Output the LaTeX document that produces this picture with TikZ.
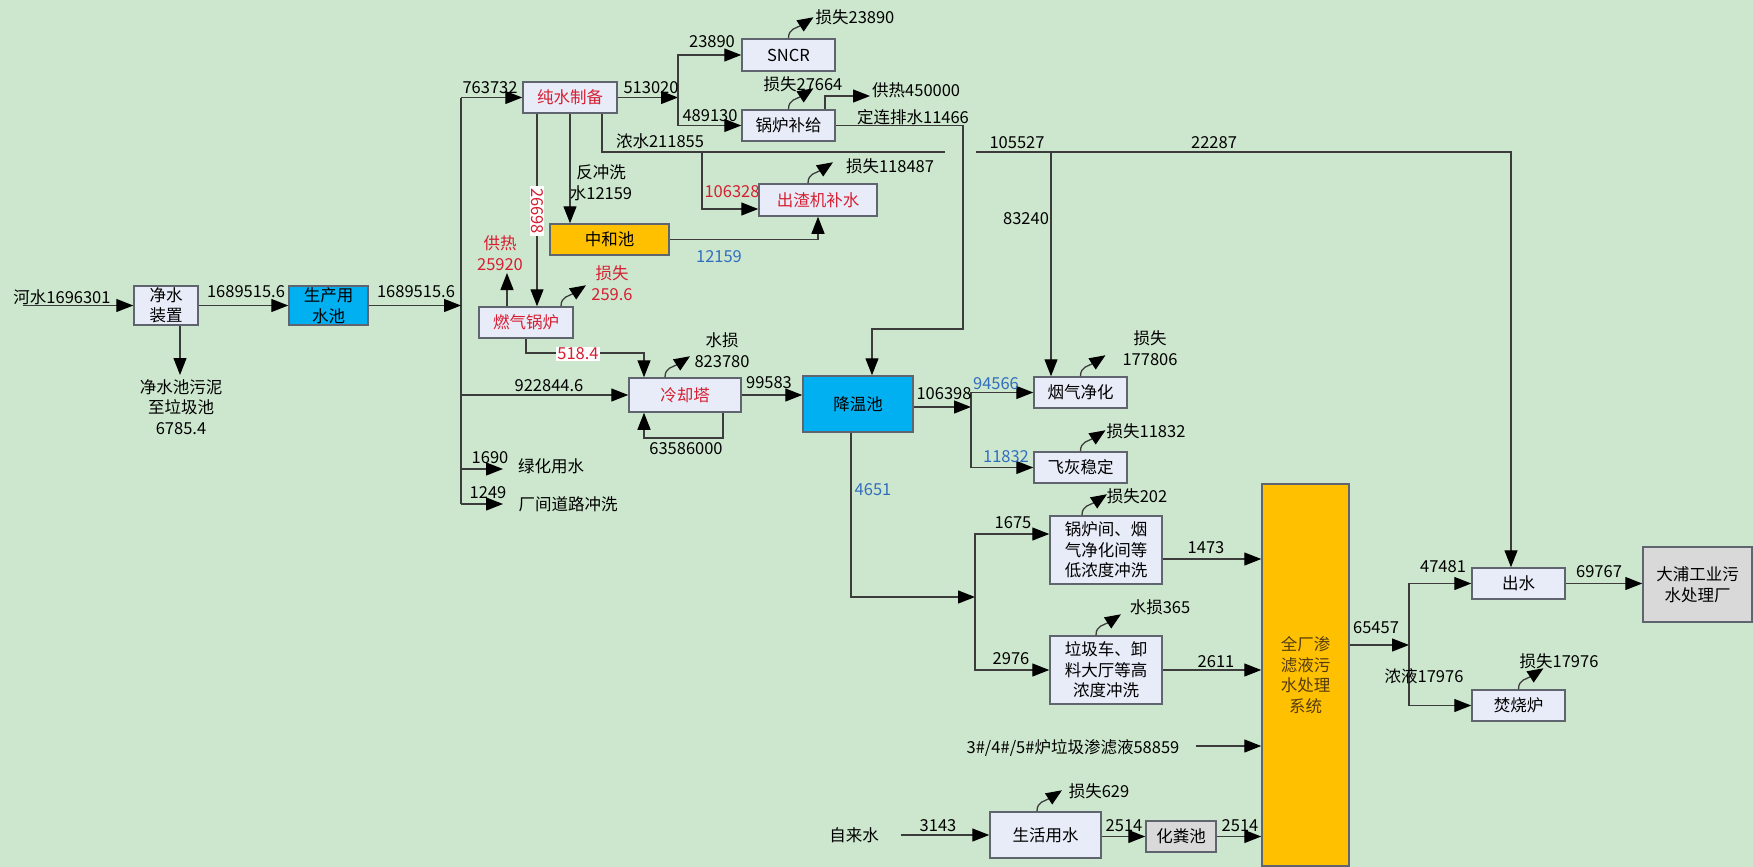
\documentclass[tikz,border=0pt]{standalone}
\usepackage{fontspec}
\setmainfont{Noto Sans CJK SC}
\usetikzlibrary{arrows.meta,calc}
\definecolor{bgc}{RGB}{205,231,206}
\definecolor{boxfill}{RGB}{232,236,248}
\definecolor{boxline}{RGB}{95,100,110}
\definecolor{bluef}{RGB}{0,176,240}
\definecolor{orangef}{RGB}{255,192,0}
\definecolor{grayf}{RGB}{217,217,217}
\definecolor{redc}{RGB}{215,30,50}
\definecolor{bluec}{RGB}{50,110,190}
\definecolor{brownc}{RGB}{85,60,15}
\definecolor{linec}{RGB}{60,60,60}
\newcommand\lossarrow[2][0pt]{\draw[loss,shift={(#2)},xshift=#1] (0,0) .. controls (0,-10) and (8,-10) .. (25,-21);}
\begin{document}
\begin{tikzpicture}[x=1pt,y=-1pt,
  every node/.style={font=\fontsize{16.5}{20.5}\selectfont},
  box/.style={draw=boxline, line width=1.5pt, fill=boxfill, inner sep=0pt, align=center},
  lab/.style={inner sep=0pt, align=center},
  redlab/.style={lab, text=redc},
  bluelab/.style={lab, text=bluec},
  conn/.style={draw=linec, line width=1.3pt},
  arr/.style={conn, -{Triangle[length=17pt,width=13pt,black]}},
  loss/.style={conn, -{Triangle[length=16pt,width=13pt,black]}}]
\fill[bgc] (0,0) rectangle (1753,867);
\useasboundingbox (0,0) rectangle (1753,867);

% boxes
\node[box, minimum width=64pt, minimum height=39pt] (jsz) at (166,305.5) {净水\\装置};
\node[box, fill=bluef, minimum width=79pt, minimum height=39pt] (sc) at (328.5,305.5) {生产用\\水池};
\node[box, text=redc, minimum width=94pt, minimum height=31pt] (cs) at (570,97.5) {纯水制备};
\node[box, minimum width=93pt, minimum height=32pt] (sncr) at (788.5,55) {SNCR};
\node[box, minimum width=93pt, minimum height=31pt] (glbj) at (788.5,125.5) {锅炉补给};
\node[box, text=redc, minimum width=118pt, minimum height=32pt] (czj) at (818,200) {出渣机补水};
\node[box, fill=orangef, minimum width=119pt, minimum height=31pt] (zhc) at (609.5,239.5) {中和池};
\node[box, text=redc, minimum width=94pt, minimum height=31pt] (rqgl) at (526,322.5) {燃气锅炉};
\node[box, text=redc, minimum width=112pt, minimum height=34pt] (lqt) at (685,395) {冷却塔};
\node[box, fill=bluef, minimum width=110pt, minimum height=56pt] (jwc) at (858,404) {降温池};
\node[box, minimum width=93pt, minimum height=31pt] (yqjh) at (1080.5,392.5) {烟气净化};
\node[box, minimum width=93pt, minimum height=31pt] (fhwd) at (1080.5,467.5) {飞灰稳定};
\node[box, minimum width=112pt, minimum height=68pt] (glj) at (1106,550) {锅炉间、烟\\气净化间等\\低浓度冲洗};
\node[box, minimum width=112pt, minimum height=68pt] (ljc) at (1106,670) {垃圾车、卸\\料大厅等高\\浓度冲洗};
\node[box, minimum width=111pt, minimum height=46pt] (shys) at (1045.5,835) {生活用水};
\node[box, fill=grayf, minimum width=70pt, minimum height=31pt] (hfc) at (1181,836.5) {化粪池};
\node[box, fill=orangef, text=brownc, minimum width=87pt, minimum height=382pt] (qc) at (1305.5,675) {全厂渗\\滤液污\\水处理\\系统};
\node[box, minimum width=93pt, minimum height=31pt] (csw) at (1518.5,583.5) {出水};
\node[box, minimum width=93pt, minimum height=31pt] (fsl) at (1518.5,705.5) {焚烧炉};
\node[box, fill=grayf, minimum width=109pt, minimum height=75pt] (dp) at (1697.5,584.5) {大浦工业污\\水处理厂};

% coordinates
\coordinate (riv) at (23,305.5);
\coordinate (sludgeend) at (180,375);
\coordinate (busT) at (461,97.5);
\coordinate (busB) at (461,504);
\coordinate (lhend) at (503,469);
\coordinate (cjend) at (503,504);
\coordinate (sp1) at (678,97.5);
\coordinate (grend) at (870,96);
\coordinate (d1) at (963,125.5);
\coordinate (d3) at (872,329);
\coordinate (gapL) at (945,152);
\coordinate (gapR) at (976,152);
\coordinate (b1) at (702,152);
\coordinate (b2) at (1051,152);
\coordinate (gr2) at (507,273);
\coordinate (q1) at (644,353);
\coordinate (l1) at (723,438);
\coordinate (l2) at (644,438);
\coordinate (s2) at (971,407);
\coordinate (s3) at (975,597);
\coordinate (c58) at (1196,746);
\coordinate (zl) at (901,835);
\coordinate (s4) at (1409,645);

% connectors
\draw[arr] (riv) -- (jsz.west);
\draw[arr] (jsz.east) -- (sc.west);
\draw[arr] (jsz.south -| sludgeend) -- (sludgeend);
\draw[conn] (busT) -- (busB);
\draw[arr] (sc.east) -- (sc.east -| busT);
\draw[arr] (busT) -- (cs.west);
\draw[arr] (lqt.west -| busT) -- (lqt.west);
\draw[arr] (lhend -| busT) -- (lhend);
\draw[arr] (busB) -- (cjend);

\draw[arr] (cs.east) -- (sp1);
\draw[arr] (sp1) |- (sncr.west);
\draw[arr] (sp1) |- (glbj.west);
\lossarrow{sncr.north}
\lossarrow{glbj.north}
\draw[arr] ([xshift=36.5pt]glbj.north) |- (grend);
\draw[arr] (glbj.east) -- (d1) |- (d3) -- (d3 |- jwc.north);

\draw[conn] ([xshift=32pt]cs.south) |- (gapL);
\draw[arr] (gapR) -| ([xshift=-7.5pt]csw.north);
\draw[arr] (b1) |- ([yshift=-9pt]czj.west);
\draw[arr] (b2) -- (b2 |- yqjh.north);
\lossarrow[-10pt]{czj.north}
\draw[arr] (zhc.east) -| (czj.south);
\draw[arr] (cs.south) -- (cs.south |- zhc.north);
\draw[arr] ([xshift=-33pt]cs.south) -- ([xshift=-33pt]cs.south |- rqgl.north);

\draw[arr] (gr2 |- rqgl.north) -- (gr2);
\lossarrow[35pt]{rqgl.north}
\draw[arr] (rqgl.south) |- (q1) -- (q1 |- lqt.north);
\lossarrow[-20pt]{lqt.north}
\draw[arr] (l1 |- lqt.south) -- (l1) -- (l2) -- (l2 |- lqt.south);
\draw[arr] (lqt.east) -- (lqt.east -| jwc.west);

\draw[arr] (s2 -| jwc.east) -- (s2);
\draw[arr] (s2) |- (yqjh.west);
\draw[arr] (s2) |- (fhwd.west);
\lossarrow{yqjh.north}
\lossarrow{fhwd.north}

\draw[arr] ([xshift=-7pt]jwc.south) |- (s3);
\draw[arr] (s3) |- ([yshift=16pt]glj.west);
\draw[arr] (s3) |- (ljc.west);
\lossarrow[-24pt]{glj.north}
\lossarrow[-10pt]{ljc.north}
\draw[arr] ([yshift=-9pt]glj.east) -- ([yshift=-9pt]glj.east -| qc.west);
\draw[arr] (ljc.east) -- (ljc.east -| qc.west);
\draw[arr] (c58) -- (c58 -| qc.west);

\draw[arr] (zl) -- (shys.west);
\draw[arr] ([yshift=-1.5pt]shys.east) -- (hfc.west);
\draw[arr] (hfc.east) -- (hfc.east -| qc.west);
\lossarrow[-8.5pt]{shys.north}

\draw[arr] (s4 -| qc.east) -- (s4);
\draw[arr] (s4) |- (csw.west);
\draw[arr] (s4) |- (fsl.west);
\draw[arr] (csw.east) -- (csw.east -| dp.west);
\lossarrow{fsl.north}

% labels
\node[lab] (t1) at (62,297) {河水1696301};
\node[lab] (t2) at (246,292) {1689515.6};
\node[lab] (t3) at (416,292) {1689515.6};
\node[lab] (t4) at (181,407) {净水池污泥\\至垃圾池\\6785.4};
\node[lab] (t5) at (490,88) {763732};
\node[lab] (t6) at (651,88) {513020};
\node[lab] (t7) at (712,42) {23890};
\node[lab] (t8) at (710,116) {489130};
\node[lab] (t9) at (855,17) {损失23890};
\node[lab] (t10) at (803,84) {损失27664};
\node[lab, anchor=west] (t11) at (872,90) {供热450000};
\node[lab] (t12) at (913,117) {定连排水11466};
\node[lab] (t13) at (660,141) {浓水211855};
\node[lab] (t14) at (601,182.5) {反冲洗\\水12159};
\node[redlab] (t15) at (732,192) {106328};
\node[lab] (t16) at (890,166) {损失118487};
\node[bluelab] (t17) at (719,257) {12159};
\node[redlab, fill=white, rotate=-90, inner xsep=2pt, inner ysep=1pt] (t18) at (537,211) {26698};
\node[redlab] (t19) at (500,253) {供热\\25920};
\node[redlab] (t20) at (612,283) {损失\\259.6};
\node[redlab, fill=white, inner xsep=1pt, inner ysep=1pt] (t21) at (578,354) {518.4};
\node[lab] (t22) at (549,386) {922844.6};
\node[lab] (t23) at (722,350) {水损\\823780};
\node[lab] (t24) at (686,449) {63586000};
\node[lab] (t25) at (769,383) {99583};
\node[lab] (t26) at (490,458) {1690};
\node[lab] (t27) at (551,466) {绿化用水};
\node[lab] (t28) at (488,493) {1249};
\node[lab] (t29) at (568,504) {厂间道路冲洗};
\node[bluelab] (t30) at (873,490) {4651};
\node[lab] (t31) at (1017,143) {105527};
\node[lab] (t32) at (1214,143) {22287};
\node[lab] (t33) at (1026,219) {83240};
\node[lab] (t34) at (944,394) {106398};
\node[bluelab] (t35) at (996,384) {94566};
\node[bluelab] (t36) at (1006,457) {11832};
\node[lab] (t37) at (1150,348) {损失\\177806};
\node[lab] (t38) at (1146,431) {损失11832};
\node[lab] (t39) at (1013,523) {1675};
\node[lab] (t40) at (1137,496) {损失202};
\node[lab] (t41) at (1206,548) {1473};
\node[lab] (t42) at (1011,659) {2976};
\node[lab] (t43) at (1160,607) {水损365};
\node[lab] (t44) at (1216,662) {2611};
\node[lab] (t45) at (1073,748) {3\#/4\#/5\#炉垃圾渗滤液58859};
\node[lab] (t46) at (854,835) {自来水};
\node[lab] (t47) at (938,826) {3143};
\node[lab] (t48) at (1099,791) {损失629};
\node[lab] (t49) at (1124,826) {2514};
\node[lab] (t50) at (1240,826) {2514};
\node[lab] (t51) at (1376,628) {65457};
\node[lab] (t52) at (1443,567) {47481};
\node[lab] (t53) at (1424,676) {浓液17976};
\node[lab] (t54) at (1559,661) {损失17976};
\node[lab] (t55) at (1599,572) {69767};
\end{tikzpicture}
\end{document}
